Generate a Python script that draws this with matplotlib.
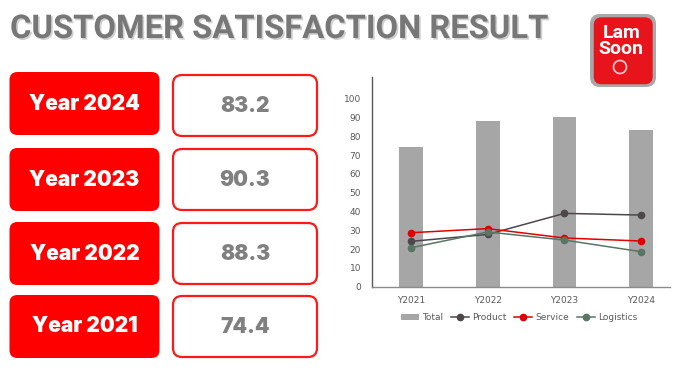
import matplotlib
matplotlib.use("Agg")
import matplotlib.pyplot as plt
from matplotlib.patches import FancyBboxPatch, Circle
import matplotlib.patheffects as pe

# ---- data ----
years = ["Y2021", "Y2022", "Y2023", "Y2024"]
total = [74.4, 88.3, 90.3, 83.2]
product = [24.1, 27.8, 39.0, 38.1]
service = [28.7, 30.9, 25.9, 24.3]
logistics = [20.7, 29.1, 24.8, 18.6]

card_labels = ["Year 2024", "Year 2023", "Year 2022", "Year 2021"]
card_values = ["83.2", "90.3", "88.3", "74.4"]

W, H = 681, 385
fig = plt.figure(figsize=(W / 100, H / 100), dpi=100)
fig.patch.set_facecolor("white")

# full-figure overlay in pixel coords (y down)
bg = fig.add_axes([0, 0, 1, 1])
bg.set_xlim(0, W)
bg.set_ylim(H, 0)
bg.axis("off")

# title, sized to span about 538 px
title = bg.text(10, 29, "CUSTOMER SATISFACTION RESULT", fontsize=24, fontweight="bold",
                family=["Roboto", "DejaVu Sans"], color="#777777",
                ha="left", va="center",
                path_effects=[pe.SimplePatchShadow(offset=(1.2, -1.2), shadow_rgbFace="#bdbdbd", alpha=0.7),
                              pe.Normal()])
rend = fig.canvas.get_renderer()
tw = title.get_window_extent(rend).width
title.set_fontsize(24 * 538 / tw)

# logo
bg.add_patch(FancyBboxPatch((590, 14), 66, 73, boxstyle="round,pad=0,rounding_size=10",
                            fc="#a9a9a9", ec="none"))
bg.add_patch(FancyBboxPatch((593.7, 17.3), 59, 67, boxstyle="round,pad=0,rounding_size=8",
                            fc="#e8141c", ec="none"))
bg.text(622, 33, "Lam", fontsize=14, fontweight="bold", color="white",
        family=["Roboto", "DejaVu Sans"], ha="center", va="center")
bg.text(621, 49.5, "Soon", fontsize=14, fontweight="bold", color="white",
        family=["Roboto", "DejaVu Sans"], ha="center", va="center")
bg.add_patch(Circle((620, 67), 6.5, fc="none", ec="#f5d0d0", lw=1.2))

# cards
red_tops = [72, 148, 222, 295]
white_tops = [75, 149, 223, 296]
for lab, val, rt, wt in zip(card_labels, card_values, red_tops, white_tops):
    bg.add_patch(FancyBboxPatch((9.5, rt), 150, 63, boxstyle="round,pad=0,rounding_size=8",
                                fc="#ff0000", ec="none"))
    bg.text(84.5, rt + 31.5, lab, fontsize=15, fontweight="black",
            family=["Inter", "DejaVu Sans"], color="white", ha="center", va="center")
    bg.add_patch(FancyBboxPatch((173, wt), 144, 61, boxstyle="round,pad=0,rounding_size=9",
                                fc="white", ec="#ff1a1a", lw=1.6))
    bg.text(245, wt + 31, val, fontsize=15, fontweight="black",
            family=["Inter", "DejaVu Sans"], color="#808080", ha="center", va="center")

# chart axes: x from 372 to 670 px, y from zero at 287 to top 77
ax_l, ax_r = 372.3, 670
ax_b, ax_t = 286.7, 77.3
ax = fig.add_axes([ax_l / W, 1 - ax_b / H, (ax_r - ax_l) / W, (ax_b - ax_t) / H])
ax.set_facecolor("none")
x = list(range(len(years)))
h_tot = ax.bar(x, total, width=0.31, color="#a6a6a6", label="Total", zorder=1)
h_pro, = ax.plot(x, product, color="#4d464b", marker="o", ms=4.5, lw=1.1, label="Product", zorder=3)
h_ser, = ax.plot(x, service, color="#e00000", marker="o", ms=4.5, lw=1.1, label="Service", zorder=3)
h_log, = ax.plot(x, logistics, color="#587565", marker="o", ms=4.5, lw=1.1, label="Logistics", zorder=3)

ax.set_xlim(-0.5, (ax_r - 410.3) / 77)
ax.set_ylim(0, (ax_b - ax_t) / 1.88)
ax.set_yticks(range(0, 101, 10))
ax.set_xticks(x)
ax.set_xticklabels(years)
for s in ["top", "right"]:
    ax.spines[s].set_visible(False)
ax.spines["left"].set_color("#595959")
ax.spines["bottom"].set_color("#8c8c8c")
ax.spines["left"].set_linewidth(1.0)
ax.spines["bottom"].set_linewidth(1.0)
ax.tick_params(axis="both", length=0, labelsize=6.5, labelcolor="#595959", pad=7)
ax.tick_params(axis="y", pad=8)

leg = ax.legend(handles=[h_tot, h_pro, h_ser, h_log],
                loc="center", bbox_to_anchor=((519 - ax_l) / (ax_r - ax_l), -(317.5 - ax_b) / (ax_b - ax_t)),
                ncol=4, frameon=False, fontsize=6.5, handlelength=2.0, handletextpad=0.3,
                columnspacing=0.9, labelcolor="#595959")

fig.savefig("out.png", dpi=100)
